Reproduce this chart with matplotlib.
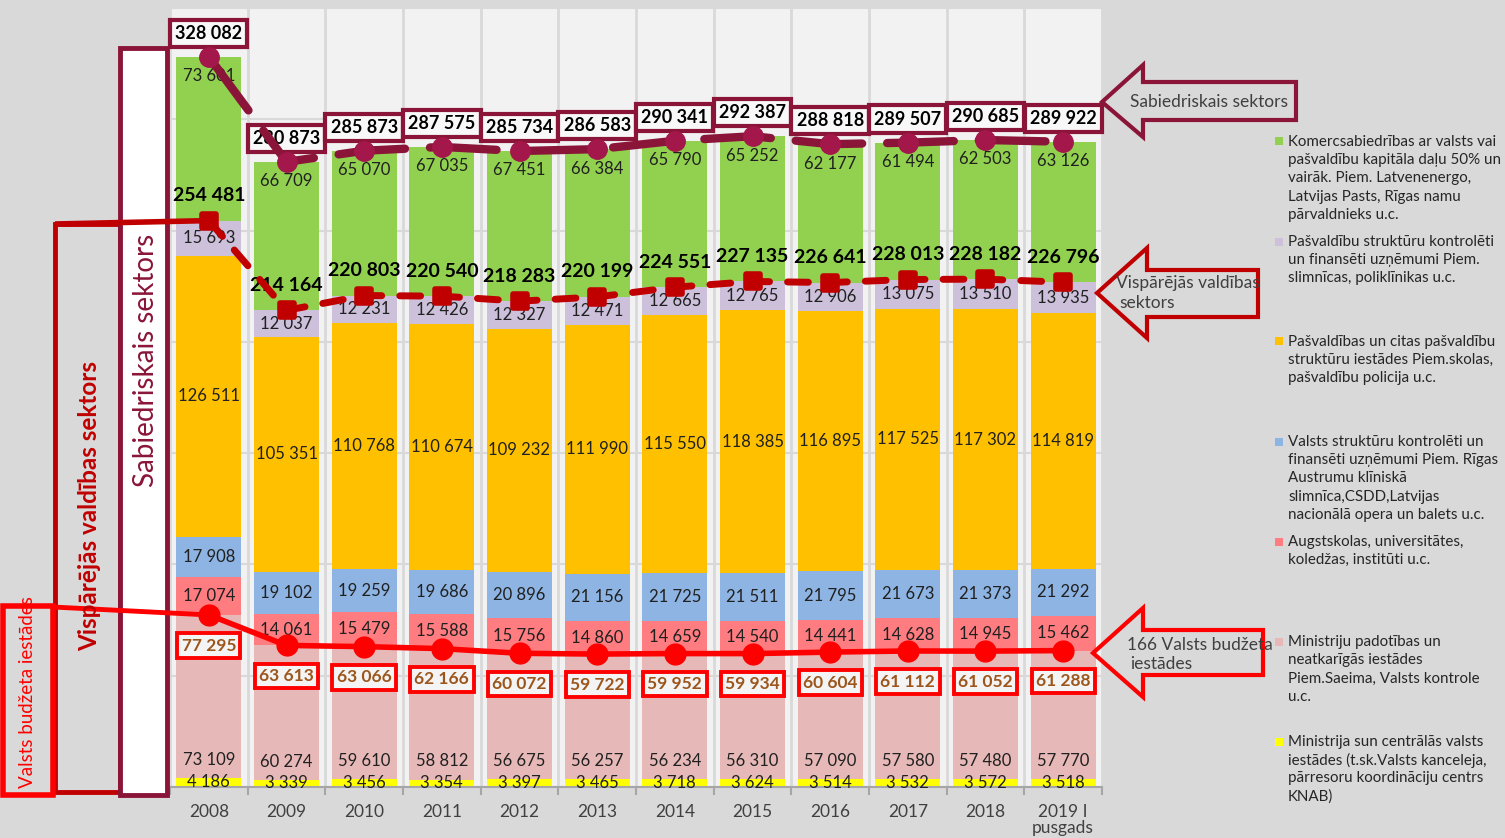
import numpy as np
import matplotlib.pyplot as plt
from matplotlib.patches import Rectangle, Polygon
from matplotlib.markers import MarkerStyle
from matplotlib.transforms import Bbox

plt.rcParams['font.family'] = ['Lato', 'DejaVu Sans']

# data
years = ['2008', '2009', '2010', '2011', '2012', '2013', '2014', '2015',
         '2016', '2017', '2018', '2019 I\npusgads']
ministrijas = [4186, 3339, 3456, 3354, 3397, 3465, 3718, 3624, 3514, 3532, 3572, 3518]
padotibas = [73109, 60274, 59610, 58812, 56675, 56257, 56234, 56310, 57090, 57580, 57480, 57770]
augstskolas = [17074, 14061, 15479, 15588, 15756, 14860, 14659, 14540, 14441, 14628, 14945, 15462]
valsts_uzn = [17908, 19102, 19259, 19686, 20896, 21156, 21725, 21511, 21795, 21673, 21373, 21292]
pasvaldibas = [126511, 105351, 110768, 110674, 109232, 111990, 115550, 118385, 116895, 117525, 117302, 114819]
pasv_uzn = [15693, 12037, 12231, 12426, 12327, 12471, 12665, 12765, 12906, 13075, 13510, 13935]
komerc = [73601, 66709, 65070, 67035, 67451, 66384, 65790, 65252, 62177, 61494, 62503, 63126]

budzeta = [77295, 63613, 63066, 62166, 60072, 59722, 59952, 59934, 60604, 61112, 61052, 61288]
vispareja = [254481, 214164, 220803, 220540, 218283, 220199, 224551, 227135, 226641, 228013, 228182, 226796]
sabiedriskais = [328082, 280873, 285873, 287575, 285734, 286583, 290341, 292387, 288818, 289507, 290685, 289922]

legend_txt = [
    "Komercsabiedrības ar valsts vai\npašvaldību kapitāla daļu 50% un\nvairāk. Piem. Latvenenergo,\nLatvijas Pasts, Rīgas namu\npārvaldnieks u.c.",
    "Pašvaldību struktūru kontrolēti\nun finansēti uzņēmumi Piem.\nslimnīcas, poliklīnikas u.c.",
    "Pašvaldības un citas pašvaldību\nstruktūru iestādes Piem.skolas,\npašvaldību policija u.c.",
    "Valsts struktūru kontrolēti un\nfinansēti uzņēmumi Piem. Rīgas\nAustrumu klīniskā\nslimnīca,CSDD,Latvijas\nnacionālā opera un balets u.c.",
    "Augstskolas, universitātes,\nkoledžas, institūti u.c.",
    "Ministriju padotības un\nneatkarīgās iestādes\nPiem.Saeima, Valsts kontrole\nu.c.",
    "Ministrija sun centrālās valsts\niestādes (t.sk.Valsts kanceleja,\npārresoru koordināciju centrs\nKNAB)",
]

series = [ministrijas, padotibas, augstskolas, valsts_uzn, pasvaldibas, pasv_uzn, komerc]
colors = ['#ffff00', '#e6b9b8', '#ff7c80', '#8db4e2', '#ffc000', '#ccc0da', '#92d050']

MAROON = '#8a1538'
DRED = '#c00000'
RED = '#ff0000'
BG = '#d9d9d9'

def fmt(v):
    return f"{v:,}".replace(",", " ")

W, H = 1505, 838
fig = plt.figure(figsize=(W / 100, H / 100), dpi=100, facecolor=BG)
ax = fig.add_axes([170 / W, (H - 787) / H, 932 / W, 779 / H])
ax.set_facecolor('#f2f2f2')

x = np.arange(len(years))
bottom = np.zeros(len(years))
for i, (vals, c) in enumerate(zip(series, colors)):
    vals = np.array(vals)
    ax.bar(x, vals, 0.84, bottom=bottom, color=c, zorder=2)
    for xi, b, v in zip(x, bottom, vals):
        if i == 1:
            ax.annotate(fmt(v), (xi, b), xytext=(0, 13), textcoords='offset points',
                        ha='center', va='center', fontsize=12, color='#202020', zorder=3)
        elif i == 6:
            ax.annotate(fmt(v), (xi, b + v), xytext=(0, -14), textcoords='offset points',
                        ha='center', va='center', fontsize=12, color='#202020', zorder=3)
        else:
            ax.text(xi, b + v / 2, fmt(v), ha='center', va='center', fontsize=12,
                    color='#202020', zorder=3)
    bottom = bottom + vals

# total lines
ax.plot(x, sabiedriskais, color=MAROON, lw=6, dashes=(8, 3), dash_capstyle='round',
        marker='o', ms=14, mfc='#a3174a', mec='#a3174a', zorder=6)
ax.plot(x, vispareja, color=DRED, lw=5, dashes=(3, 2.6), dash_capstyle='round',
        marker=MarkerStyle('s', joinstyle='round'), ms=10, mew=4, mfc=DRED, mec=DRED,
        zorder=6)
ax.plot(x, budzeta, color=RED, lw=4, marker='o', ms=15, mfc=RED, mec=RED, zorder=6)

for xi, v in zip(x, sabiedriskais):
    ax.annotate(fmt(v), (xi, v), xytext=(0, 17), textcoords='offset points', ha='center',
                va='center', fontsize=13, fontweight='bold', color='black', zorder=5,
                bbox=dict(boxstyle='square,pad=0.28', fc='#f8f8f8', ec=MAROON, lw=3))
for xi, v in zip(x, vispareja):
    ax.annotate(fmt(v), (xi, v), xytext=(0, 18), textcoords='offset points', ha='center',
                va='center', fontsize=14, fontweight='bold', color='black', zorder=5)
for xi, v in zip(x, budzeta):
    ax.annotate(fmt(v), (xi, v), xytext=(0, -22), textcoords='offset points', ha='center',
                va='center', fontsize=12.5, fontweight='bold', color='#9c561c', zorder=5,
                bbox=dict(boxstyle='square,pad=0.25', fc='#f4f4f4', ec=RED, lw=2.8))

ax.set_xlim(-0.5, len(years) - 0.5)
ax.set_ylim(0, 349000)
ax.set_yticks(np.arange(0, 350001, 50000))
ax.set_yticklabels([])
ax.set_xticks(x)
ax.set_xticklabels(years, fontsize=12.5, color='#404040', linespacing=1.05)
ax.set_xticks(np.arange(-0.5, len(years), 1), minor=True)
ax.tick_params(which='major', length=0, pad=12)
ax.tick_params(which='minor', length=6, color='#a6a6a6', width=1.5)
ax.tick_params(axis='y', length=0)
ax.grid(which='minor', axis='x', color='#d9d9d9', lw=2, zorder=0)
ax.grid(which='major', axis='y', color='#d9d9d9', lw=1.5, zorder=0)
ax.set_axisbelow(True)
for s in ['top', 'left', 'right']:
    ax.spines[s].set_visible(False)
ax.spines['bottom'].set_color('#a6a6a6')
ax.spines['bottom'].set_linewidth(1.5)

# overlay in pixel coordinates for boxes, arrows, legend
ov = fig.add_axes([0, 0, 1, 1], zorder=10)
ov.set_xlim(0, W)
ov.set_ylim(H, 0)
ov.axis('off')
ov.patch.set_visible(False)

def to_px(xd, yd):
    px, py = ax.transData.transform((xd, yd))
    return px, H - py

# left side boxes
ov.add_patch(Rectangle((55, 224), 65, 568, fill=False, ec=DRED, lw=3.5))
ov.add_patch(Rectangle((3, 606), 50, 189, fill=False, ec=RED, lw=4))
ov.add_patch(Rectangle((120, 48), 47, 747, fc='white', ec=MAROON, lw=3.5))

gx, gy = to_px(0, vispareja[0])
ov.plot([55, gx], [224, gy], color=DRED, lw=4, solid_capstyle='butt')
bx, by = to_px(0, budzeta[0])
ov.plot([53, bx], [607, by], color=RED, lw=3.5, solid_capstyle='butt')

ov.text(146, 360, 'Sabiedriskais sektors', rotation=90, ha='center', va='center',
        fontsize=20, color=MAROON)
ov.text(90, 506, 'Vispārējās valdības sektors', rotation=90, ha='center', va='center',
        fontsize=17.5, fontweight='bold', color=DRED)
t = ov.text(28, 788, 'Valsts budžeta iestādes', rotation=90, ha='center', va='bottom',
            fontsize=13.5, color=RED)
t.set_clip_box(Bbox.from_extents(3, H - 795, 53, H - 608))

# right side arrows
arrows = [
    ([(1102, 102), (1143, 65), (1143, 82), (1296, 82), (1296, 120), (1143, 120), (1143, 137)],
     MAROON, [(1130, 102, 'Sabiedriskais sektors')]),
    ([(1097, 293), (1147, 248), (1147, 270), (1258, 270), (1258, 317), (1147, 317), (1147, 338)],
     DRED, [(1116, 283, 'Vispārējās valdības'), (1119, 303, 'sektors')]),
    ([(1093, 653), (1143, 608), (1143, 630), (1263, 630), (1263, 675), (1143, 675), (1143, 697)],
     RED, [(1127, 645, '166 Valsts budžeta'), (1130, 664, 'iestādes')]),
]
for pts, c, texts in arrows:
    ov.add_patch(Polygon(pts, closed=True, fill=False, ec=c, lw=3, joinstyle='miter'))
    for tx, ty, s in texts:
        ov.text(tx, ty, s, ha='left', va='center', fontsize=12.5, color='#404040')

# legend, top of the stack first
for k, (txt, c) in enumerate(zip(legend_txt, colors[::-1])):
    y0 = 142 + 100 * k
    ov.add_patch(Rectangle((1275, y0 - 4.5), 8, 8, fc=c, ec='none'))
    for j, line in enumerate(txt.split('\n')):
        ov.text(1288, y0 + 18.2 * j, line, ha='left', va='center', fontsize=10.9,
                color='#262626')

fig.savefig('out.png', dpi=100, facecolor=BG)
